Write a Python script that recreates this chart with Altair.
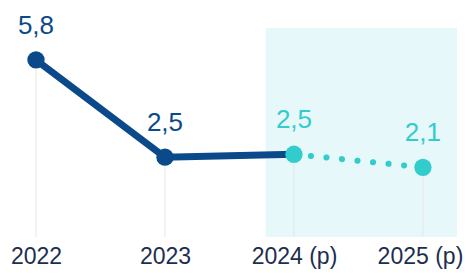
import altair as alt
import pandas as pd

years = ["2022", "2023", "2024 (p)", "2025 (p)"]
values = [5.8, 2.45, 2.55, 2.1]
labels = ["5,8", "2,5", "2,5", "2,1"]
kind = ["real", "real", "proj", "proj"]

df = pd.DataFrame({"i": list(range(4)), "year": years, "v": values, "lab": labels, "kind": kind})
solid = df.iloc[0:3]
dotted = df.iloc[2:4]

W, H = 449, 209
DARK = "#0a4a8a"
CYAN = "#33cccc"

xs = alt.Scale(domain=[-0.217, 3.264], nice=False, zero=False)
ys = alt.Scale(domain=[-0.3, 6.9], nice=False, zero=False)

label_expr = "[" + ",".join("'%s'" % y for y in years) + "][datum.value]"

shade = alt.Chart(pd.DataFrame({"a": [1.78], "b": [3.264]})).mark_rect(color="#e6f8f9").encode(
    x=alt.X("a:Q", scale=xs, axis=alt.Axis(values=[0, 1, 2, 3], labelExpr=label_expr, grid=False,
                                           ticks=False, tickSize=0, domain=False, labelFontSize=23,
                                           labelColor="#1c2e50", labelFont="Liberation Sans",
                                           labelBaseline="alphabetic", labelPadding=26, title=None,
                                           labelOffset={"condition": {"test": "datum.value == 3", "value": -3}, "value": 0},
                                           labelBound=False, labelOverlap=False)),
    x2="b:Q",
    y=alt.value(0),
    y2=alt.value(H),
)

drops = alt.Chart(df).mark_rule(color="#e6e6e6", strokeWidth=1).encode(
    x=alt.X("i:Q", scale=xs),
    y=alt.Y("v:Q", scale=ys, axis=None),
    y2=alt.value(H),
)

line_solid = alt.Chart(solid).mark_line(color=DARK, strokeWidth=7).encode(
    x=alt.X("i:Q", scale=xs),
    y=alt.Y("v:Q", scale=ys),
)

line_dot = alt.Chart(dotted).mark_line(color=CYAN, strokeWidth=6, strokeCap="round",
                                       strokeDash=[0.1, 15.5], strokeDashOffset=-17).encode(
    x=alt.X("i:Q", scale=xs),
    y=alt.Y("v:Q", scale=ys),
)

pts = alt.Chart(df).mark_circle(opacity=1, size=300).encode(
    x=alt.X("i:Q", scale=xs),
    y=alt.Y("v:Q", scale=ys),
    color=alt.Color("kind:N", scale=alt.Scale(domain=["real", "proj"], range=[DARK, CYAN]), legend=None),
)

txt = alt.Chart(df).mark_text(fontSize=26, font="Liberation Sans", baseline="alphabetic", dy=-26).encode(
    x=alt.X("i:Q", scale=xs),
    y=alt.Y("v:Q", scale=ys),
    text="lab:N",
    color=alt.Color("kind:N", scale=alt.Scale(domain=["real", "proj"], range=[DARK, CYAN]), legend=None),
)

chart = alt.layer(shade, drops, line_solid, line_dot, pts, txt).properties(
    width=W, height=H,
    padding={"left": 0, "top": 20, "right": 8, "bottom": 36},
    autosize=alt.AutoSizeParams(type="none"),
).configure_view(stroke=None)

chart.save("out.html", embed_options={"renderer": "svg", "actions": False})
